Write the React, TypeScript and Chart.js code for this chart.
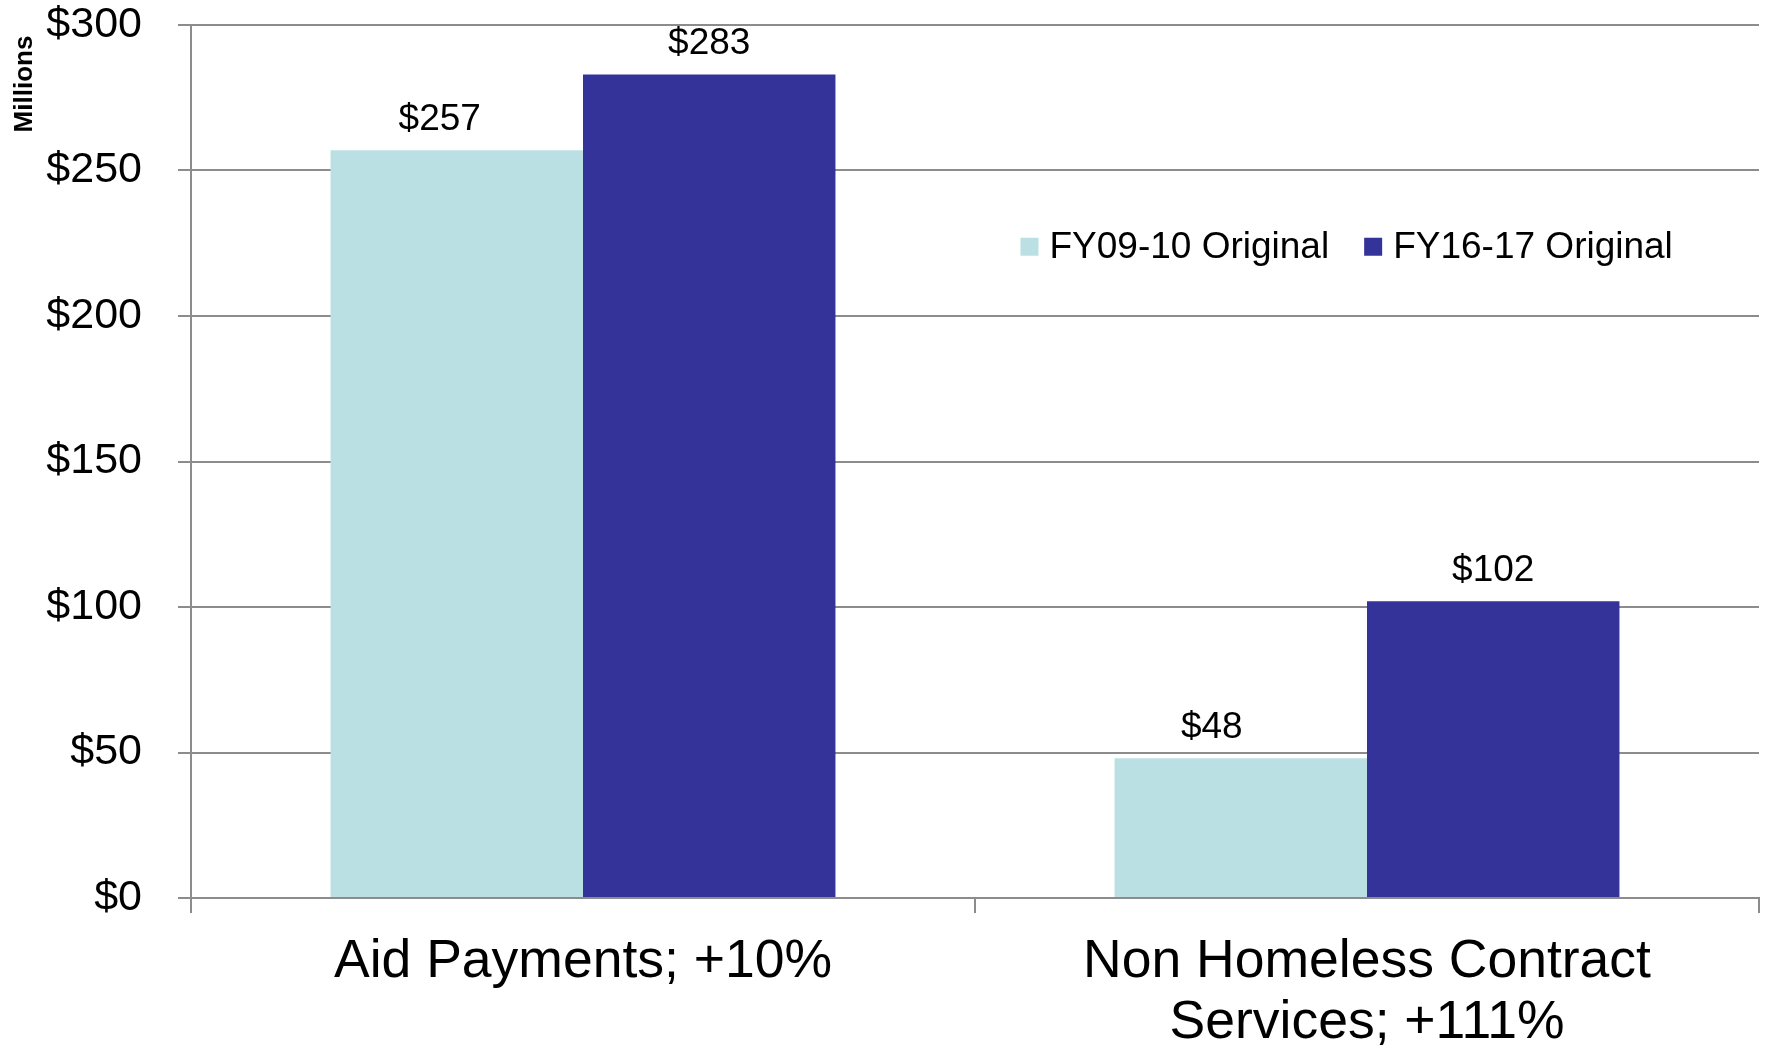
import React, { useEffect, useRef } from "react";
import { Chart, registerables } from "chart.js";

Chart.register(...registerables);

const categories: (string | string[])[] = [
  "Aid Payments; +10%",
  ["Non Homeless Contract", "Services; +111%"],
];
const seriesNames = ["FY09-10 Original", "FY16-17 Original"];
const fy0910 = [257, 48];
const fy1617 = [283, 102];
const seriesColors = ["#BBE0E3", "#333399"];
const yTicks = [0, 50, 100, 150, 200, 250, 300];
const yTitle = "Millions";

// horizontal nudges of the value labels (style only), per series / per category
const labelNudge = [
  [-17, -29],
  [0, 0],
];

const FONT = '"Liberation Sans", Arial, Helvetica, sans-serif';
const GRID = "#8C8C8C";

const extrasPlugin = {
  id: "extras",
  afterDatasetsDraw(chart: any) {
    const ctx = chart.ctx;
    ctx.save();
    // value labels
    ctx.font = `37px ${FONT}`;
    ctx.fillStyle = "#000";
    ctx.textAlign = "center";
    ctx.textBaseline = "alphabetic";
    chart.data.datasets.forEach((ds: any, i: number) => {
      const meta = chart.getDatasetMeta(i);
      meta.data.forEach((el: any, j: number) => {
        ctx.fillText("$" + ds.data[j], el.x + labelNudge[i][j], el.y - 20);
      });
    });
    // legend
    const ca = chart.chartArea;
    let x = ca.left + 0.529 * (ca.right - ca.left);
    const yc = ca.top + 0.254 * (ca.bottom - ca.top);
    ctx.font = `37px ${FONT}`;
    ctx.textAlign = "left";
    ctx.textBaseline = "middle";
    chart.data.datasets.forEach((ds: any) => {
      ctx.fillStyle = ds.backgroundColor;
      ctx.fillRect(x, yc - 9, 18, 18);
      x += 18 + 11;
      ctx.fillStyle = "#000";
      ctx.fillText(ds.label, x, yc + 1);
      x += ctx.measureText(ds.label).width + 35;
    });
    // y-axis title
    ctx.font = `bold 26px ${FONT}`;
    ctx.textAlign = "center";
    ctx.textBaseline = "middle";
    ctx.translate(25, ca.top + 59);
    ctx.rotate(-Math.PI / 2);
    ctx.fillText(yTitle, 0, 0);
    ctx.restore();
  },
};

export default function App() {
  const ref = useRef<HTMLCanvasElement>(null);
  useEffect(() => {
    document.body.style.margin = "0";
    const chart = new Chart(ref.current!, {
      type: "bar",
      data: {
        labels: categories as any,
        datasets: [
          { label: seriesNames[0], data: fy0910, backgroundColor: seriesColors[0] },
          { label: seriesNames[1], data: fy1617, backgroundColor: seriesColors[1] },
        ],
      },
      options: {
        animation: false,
        responsive: true,
        maintainAspectRatio: false,
        layout: { padding: { top: 25, right: 9, left: 0, bottom: 0 } },
        plugins: { legend: { display: false }, tooltip: { enabled: false } },
        datasets: { bar: { barPercentage: 1, categoryPercentage: 0.644 } },
        scales: {
          x: {
            grid: {
              display: true,
              drawOnChartArea: false,
              drawTicks: true,
              tickLength: 15,
              color: GRID,
              lineWidth: 2,
              offset: true,
            },
            border: { display: true, color: GRID, width: 2 },
            ticks: {
              color: "#000",
              font: { family: FONT, size: 53.5, lineHeight: 1.15 },
              padding: 18,
              maxRotation: 0,
              autoSkip: false,
            },
            afterFit: (s: any) => {
              s.height = 150;
              s.paddingLeft = 0;
              s.paddingRight = 0;
            },
          },
          y: {
            min: yTicks[0],
            max: yTicks[yTicks.length - 1],
            afterBuildTicks: (s: any) => {
              s.ticks = yTicks.map((v) => ({ value: v }));
            },
            grid: { color: GRID, lineWidth: 2, tickLength: 13, drawTicks: true },
            border: { display: true, color: GRID, width: 2 },
            ticks: {
              color: "#000",
              font: { family: FONT, size: 43 },
              padding: 36,
              callback: (v: any) => "$" + v,
            },
            afterFit: (s: any) => {
              s.width = 191;
              s.paddingTop = 0;
              s.paddingBottom = 0;
            },
          },
        },
      },
      plugins: [extrasPlugin],
    });
    return () => chart.destroy();
  }, []);
  return (
    <div style={{ position: "absolute", left: 0, top: 0, width: 1768, height: 1048 }}>
      <canvas ref={ref} />
    </div>
  );
}
